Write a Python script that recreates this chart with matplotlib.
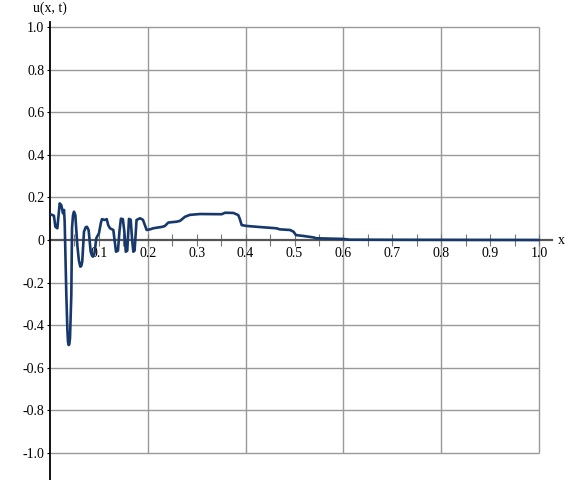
import numpy as np
import matplotlib.pyplot as plt

# values
x_vals = [0.002, 0.008, 0.011, 0.015, 0.0198, 0.023, 0.0266, 0.0286, 0.030,
          0.0334, 0.0355, 0.0368, 0.038, 0.0395, 0.0409, 0.0436, 0.045, 0.047,
          0.049, 0.0518, 0.0558, 0.059, 0.062, 0.064, 0.066, 0.0695, 0.073,
          0.0757, 0.079, 0.0832, 0.086, 0.088, 0.091, 0.0947, 0.098, 0.100,
          0.104, 0.1063, 0.112, 0.116, 0.119, 0.1227, 0.1295, 0.132, 0.135,
          0.139, 0.142, 0.145, 0.149, 0.152, 0.155, 0.158, 0.1615, 0.165,
          0.168, 0.1704, 0.173, 0.177, 0.184, 0.190, 0.1977, 0.2045, 0.211,
          0.230, 0.235, 0.242, 0.259, 0.266, 0.276, 0.286, 0.307, 0.351, 0.358,
          0.375, 0.385, 0.388, 0.392, 0.402, 0.423, 0.463, 0.470, 0.491, 0.498,
          0.503, 0.518, 0.538, 0.545, 0.600, 0.613, 0.695, 0.840, 1.000]
u_vals = [0.120, 0.114, 0.062, 0.055, 0.172, 0.164, 0.125, 0.141, 0.086,
          -0.258, -0.420, -0.477, -0.493, -0.490, -0.460, -0.258, 0.055, 0.115,
          0.133, 0.117, -0.023, -0.095, -0.125, -0.122, -0.100, 0.039, 0.060,
          0.062, 0.046, -0.055, -0.074, -0.078, -0.062, 0.008, 0.023, 0.030,
          0.080, 0.098, 0.094, 0.098, 0.070, 0.055, 0.047, 0.000, -0.055,
          -0.050, 0.040, 0.100, 0.098, 0.040, -0.055, -0.050, 0.099, 0.095,
          0.000, -0.055, -0.050, 0.094, 0.102, 0.095, 0.047, 0.050, 0.055,
          0.062, 0.066, 0.082, 0.086, 0.090, 0.109, 0.118, 0.122, 0.121, 0.128,
          0.127, 0.117, 0.100, 0.070, 0.066, 0.062, 0.055, 0.050, 0.047, 0.039,
          0.023, 0.019, 0.0125, 0.008, 0.005, 0.0015, 0.001, 0.0005, 0.000]

grid_x = [0.2, 0.4, 0.6, 0.8, 1.0]
grid_y = [-1.0, -0.8, -0.6, -0.4, -0.2, 0.2, 0.4, 0.6, 0.8, 1.0]
ytick_vals = [-1.0, -0.8, -0.6, -0.4, -0.2, 0.0, 0.2, 0.4, 0.6, 0.8, 1.0]
ytick_labels = ['-1.0', '-0.8', '-0.6', '-0.4', '-0.2', '0', '0.2', '0.4', '0.6', '0.8', '1.0']
xtick_vals = [0.1, 0.2, 0.3, 0.4, 0.5, 0.6, 0.7, 0.8, 0.9, 1.0]
xtick_labels = ['0.1', '0.2', '0.3', '0.4', '0.5', '0.6', '0.7', '0.8', '0.9', '1.0']

plt.rcParams['font.family'] = ['Liberation Serif', 'DejaVu Serif']
plt.rcParams['font.size'] = 10

W, H = 570, 480
fig = plt.figure(figsize=(W / 100, H / 100), dpi=100)
ax = fig.add_axes([50 / W, 0, (552 - 50) / W, (480 - 22) / H])
ax.set_xlim(0, (552 - 50) / 489)
ax.set_ylim((240 - 480) / 213, (240 - 22) / 213)

# grid only inside [0,1] x [-1,1]
ax.vlines(grid_x, -1.0, 1.0, color='#999999', lw=1.0, zorder=1)
ax.hlines(grid_y, 0, 1.0, color='#999999', lw=1.0, zorder=1)

for s in ['top', 'right']:
    ax.spines[s].set_visible(False)
ax.spines['left'].set_color('black')
ax.spines['left'].set_linewidth(1.3)
ax.spines['bottom'].set_position(('data', 0))
ax.spines['bottom'].set_color('#555555')
ax.spines['bottom'].set_linewidth(1.6)
ax.spines['bottom'].set_zorder(2)

ax.set_xticks(xtick_vals)
ax.set_xticklabels(xtick_labels)
ax.set_xticks(np.arange(0.05, 1.0, 0.1), minor=True)
ax.tick_params(axis='x', which='both', direction='inout', length=8, width=0.8,
               color='#777777', pad=1)
ax.set_yticks(ytick_vals)
ax.set_yticklabels(ytick_labels)
ax.tick_params(axis='y', direction='out', length=2, width=0.8, pad=2)

ax.plot(x_vals, u_vals, color='#17386b', lw=1.9, solid_joinstyle='round',
        solid_capstyle='round', zorder=3, clip_on=False)

fig.text(33 / W, 1 - 8 / H, 'u(x, t)', ha='left', va='center', fontsize=10)
fig.text(558 / W, 1 - 240 / H, 'x', ha='left', va='center', fontsize=10)

fig.savefig('out.png', dpi=100)
